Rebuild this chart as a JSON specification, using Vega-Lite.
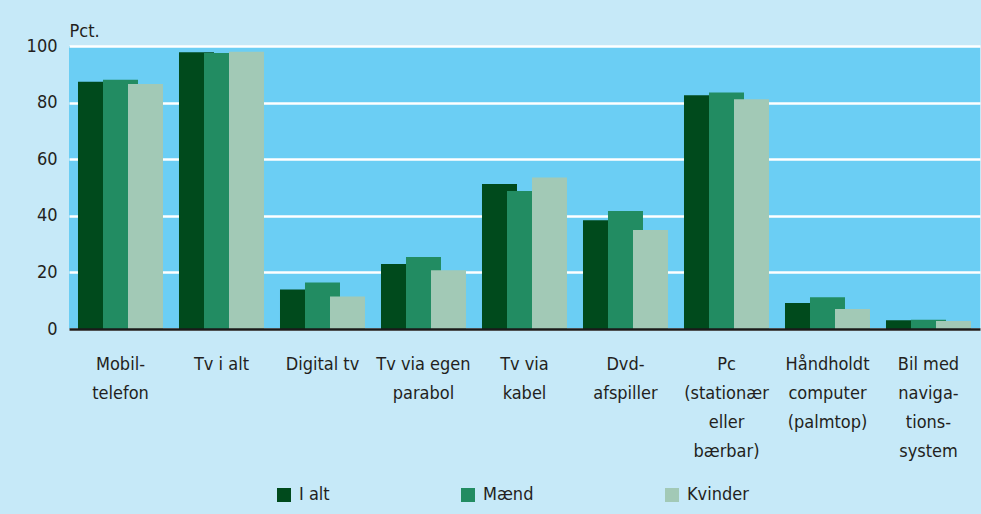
{
  "$schema": "https://vega.github.io/schema/vega-lite/v6.json",
  "width": 911,
  "height": 283,
  "autosize": {"type": "none"},
  "padding": {"left": 69, "top": 46, "right": 1, "bottom": 185},
  "background": "#C6E9F8",
  "config": {
    "view": {"fill": "#6BCEF4", "stroke": null},
    "font": "DejaVu Sans Condensed, sans-serif",
    "axis": {"labelColor": "#231F20", "titleColor": "#231F20", "labelFont": "DejaVu Sans Condensed, sans-serif", "titleFont": "DejaVu Sans Condensed, sans-serif"},
    "legend": {"labelFont": "DejaVu Sans Condensed, sans-serif", "labelColor": "#231F20"}
  },
  "data": {
    "values": [
      {"kategori": "Mobil-|telefon", "serie": "I alt", "pct": 87.4},
      {"kategori": "Mobil-|telefon", "serie": "Mænd", "pct": 88.1},
      {"kategori": "Mobil-|telefon", "serie": "Kvinder", "pct": 86.6},
      {"kategori": "Tv i alt", "serie": "I alt", "pct": 97.8},
      {"kategori": "Tv i alt", "serie": "Mænd", "pct": 97.5},
      {"kategori": "Tv i alt", "serie": "Kvinder", "pct": 98.0},
      {"kategori": "Digital tv", "serie": "I alt", "pct": 14.0},
      {"kategori": "Digital tv", "serie": "Mænd", "pct": 16.4},
      {"kategori": "Digital tv", "serie": "Kvinder", "pct": 11.5},
      {"kategori": "Tv via egen|parabol", "serie": "I alt", "pct": 23.0},
      {"kategori": "Tv via egen|parabol", "serie": "Mænd", "pct": 25.4},
      {"kategori": "Tv via egen|parabol", "serie": "Kvinder", "pct": 20.8},
      {"kategori": "Tv via|kabel", "serie": "I alt", "pct": 51.2},
      {"kategori": "Tv via|kabel", "serie": "Mænd", "pct": 48.8},
      {"kategori": "Tv via|kabel", "serie": "Kvinder", "pct": 53.5},
      {"kategori": "Dvd-|afspiller", "serie": "I alt", "pct": 38.4},
      {"kategori": "Dvd-|afspiller", "serie": "Mænd", "pct": 41.7},
      {"kategori": "Dvd-|afspiller", "serie": "Kvinder", "pct": 35.0},
      {"kategori": "Pc|(stationær|eller|bærbar)", "serie": "I alt", "pct": 82.6},
      {"kategori": "Pc|(stationær|eller|bærbar)", "serie": "Mænd", "pct": 83.6},
      {"kategori": "Pc|(stationær|eller|bærbar)", "serie": "Kvinder", "pct": 81.2},
      {"kategori": "Håndholdt|computer|(palmtop)", "serie": "I alt", "pct": 9.2},
      {"kategori": "Håndholdt|computer|(palmtop)", "serie": "Mænd", "pct": 11.2},
      {"kategori": "Håndholdt|computer|(palmtop)", "serie": "Kvinder", "pct": 7.1},
      {"kategori": "Bil med|naviga-|tions-|system", "serie": "I alt", "pct": 3.1},
      {"kategori": "Bil med|naviga-|tions-|system", "serie": "Mænd", "pct": 3.3},
      {"kategori": "Bil med|naviga-|tions-|system", "serie": "Kvinder", "pct": 2.8}
    ]
  },
  "mark": {"type": "bar", "width": {"band": 1.4}},
  "encoding": {
    "x": {
      "field": "kategori",
      "type": "nominal",
      "sort": null,
      "scale": {"paddingInner": 0.2574, "paddingOuter": 0.1386, "align": 0.857},
      "axis": {
        "title": null,
        "labelAngle": 0,
        "labelExpr": "split(datum.label, '|')",
        "labelFontSize": 18,
        "labelLineHeight": 29,
        "labelAlign": "center",
        "labelBaseline": "top",
        "labelPadding": 26,
        "labelOffset": -10,
        "labelLimit": 200,
        "ticks": false,
        "domainColor": "#1A1A1A",
        "domainWidth": 2.5,
        "zindex": 1
      }
    },
    "xOffset": {
      "field": "serie",
      "type": "nominal",
      "sort": ["I alt", "Mænd", "Kvinder"],
      "scale": {"paddingInner": 0, "paddingOuter": 0}
    },
    "y": {
      "field": "pct",
      "type": "quantitative",
      "scale": {"domain": [0, 100], "nice": false},
      "axis": {
        "values": [0, 20, 40, 60, 80, 100],
        "title": "Pct.",
        "titleAngle": 0,
        "titleAlign": "left",
        "titleBaseline": "alphabetic",
        "titleX": 0,
        "titleY": -10,
        "titleFontSize": 18,
        "titleFontWeight": "normal",
        "labelFontSize": 18,
        "labelPadding": 12,
        "ticks": false,
        "domain": false,
        "gridColor": "white",
        "gridWidth": 2.5,
        "gridOpacity": 1
      }
    },
    "color": {
      "field": "serie",
      "type": "nominal",
      "sort": ["I alt", "Mænd", "Kvinder"],
      "scale": {"domain": ["I alt", "Mænd", "Kvinder"], "range": ["#004A1C", "#228C62", "#A2C9B6"]},
      "legend": {
        "title": null,
        "orient": "none",
        "direction": "horizontal",
        "columns": 3,
        "gridAlign": "none",
        "columnPadding": 129,
        "legendX": 206,
        "legendY": 440,
        "symbolType": "square",
        "symbolSize": 196,
        "symbolStrokeWidth": 0,
        "symbolOpacity": 1,
        "labelFontSize": 18,
        "labelOffset": 6,
        "padding": 0
      }
    }
  }
}
